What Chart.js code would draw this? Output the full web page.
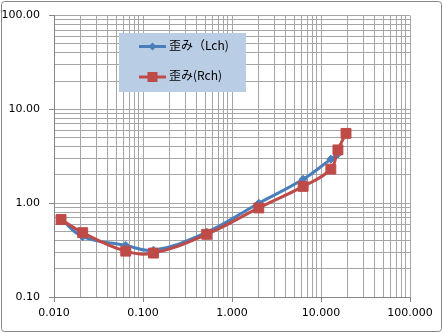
<!DOCTYPE html>
<html>
<head>
<meta charset="utf-8">
<script src="https://cdn.jsdelivr.net/npm/chart.js@4.4.1/dist/chart.umd.min.js"></script>
<style>
  html, body { margin: 0; padding: 0; background: #fff; }
  canvas { display: block; }
</style>
</head>
<body>
<canvas id="chart" width="443" height="333"></canvas>
<script>
// frequency-ish x values and distortion values
const xValues = [0.012, 0.021, 0.064, 0.131, 0.52, 2.0, 6.3, 12.9, 15.5, 19.1]
const lchValues = [0.68, 0.44, 0.355, 0.315, 0.49, 1.0, 1.8, 2.95, 3.35]
const rchValues = [0.67, 0.485, 0.308, 0.294, 0.466, 0.89, 1.51, 2.31, 3.7, 5.55]
const seriesLabels = ['歪み（Lch)', '歪み(Rch)']
const xTickDecades = [0.01, 0.1, 1, 10, 100]
const yTickDecades = [0.1, 1, 10, 100]

const BLUE = '#4a7ebb'
const RED = '#be4b48'

// 1..9 within each decade, for the gridlines
function logTicks (decades) {
  const out = []
  for (let i = 0; i < decades.length - 1; i++) {
    for (let m = 1; m < 10; m++) out.push(+(decades[i] * m).toPrecision(6))
  }
  out.push(decades[decades.length - 1])
  return out
}
const isDecade = v => Math.abs(Math.log10(v) - Math.round(Math.log10(v))) < 1e-9

const toPoints = ys => ys.map((y, i) => ({ x: xValues[i], y }))

const frame = {
  id: 'frame',
  beforeDraw (chart) {
    const ctx = chart.ctx
    ctx.save()
    ctx.fillStyle = '#fff'
    ctx.fillRect(0, 0, chart.width, chart.height)
    ctx.strokeStyle = '#868686'
    ctx.lineWidth = 1
    ctx.beginPath()
    ctx.roundRect(1.5, 1.5, chart.width - 3, chart.height - 3, 3)
    ctx.stroke()
    ctx.restore()
  },
  afterDraw (chart) {
    // legend box inside the plot, like the Excel one
    const ctx = chart.ctx
    ctx.save()
    ctx.fillStyle = '#b9cde5'
    ctx.fillRect(119, 33, 127, 59)
    const rows = [
      { y: 46.5, color: BLUE, marker: 'diamond', label: seriesLabels[0] },
      { y: 77, color: RED, marker: 'square', label: seriesLabels[1] }
    ]
    rows.forEach(r => {
      ctx.strokeStyle = r.color
      ctx.lineWidth = 3
      ctx.beginPath()
      ctx.moveTo(139, r.y)
      ctx.lineTo(166, r.y)
      ctx.stroke()
      ctx.fillStyle = r.color
      if (r.marker === 'square') {
        ctx.fillRect(147.5, r.y - 5, 10, 10)
      } else {
        ctx.beginPath()
        ctx.moveTo(152.5, r.y - 4)
        ctx.lineTo(156.5, r.y)
        ctx.lineTo(152.5, r.y + 4)
        ctx.lineTo(148.5, r.y)
        ctx.closePath()
        ctx.fill()
      }
      ctx.fillStyle = '#000'
      ctx.font = '12px "Noto Sans CJK JP"'
      ctx.textBaseline = 'middle'
      ctx.textAlign = 'left'
      ctx.fillText(r.label, 169, r.y - 1.5)
    })
    ctx.restore()
  }
}

const gridFor = () => ({
  color: '#a6a6a6',
  lineWidth: 1,
  tickLength: 5,
  tickColor: c => (c.tick && isDecade(c.tick.value)) ? '#868686' : 'rgba(0,0,0,0)'
})

new Chart(document.getElementById('chart'), {
  type: 'line',
  data: {
    datasets: [
      {
        label: seriesLabels[0],
        data: toPoints(lchValues),
        borderColor: BLUE,
        backgroundColor: BLUE,
        borderWidth: 3,
        pointStyle: 'rectRot',
        pointRadius: 4,
        pointBorderWidth: 1,
        tension: 0.4,
        order: 1 // drawn under the red series
      },
      {
        label: seriesLabels[1],
        data: toPoints(rchValues),
        borderColor: RED,
        backgroundColor: RED,
        borderWidth: 3,
        pointStyle: 'rect',
        pointRadius: 7,
        pointBorderWidth: 1,
        tension: 0.4,
        order: 0
      }
    ]
  },
  options: {
    responsive: false,
    animation: false,
    layout: { padding: { left: 0, top: 13, right: 33, bottom: 0 } },
    plugins: {
      legend: { display: false },
      tooltip: { enabled: false }
    },
    scales: {
      x: {
        type: 'logarithmic',
        min: xTickDecades[0],
        max: xTickDecades[xTickDecades.length - 1],
        afterBuildTicks: s => { s.ticks = logTicks(xTickDecades).map(v => ({ value: v })) },
        afterFit: s => { s.height = 36 },
        grid: gridFor(),
        border: { color: '#868686' },
        ticks: {
          autoSkip: false,
          maxRotation: 0,
          padding: 5,
          color: '#000',
          font: { family: 'DejaVu Sans', size: 11 },
          callback: v => isDecade(v) ? v.toFixed(3) : ''
        }
      },
      y: {
        type: 'logarithmic',
        min: yTickDecades[0],
        max: yTickDecades[yTickDecades.length - 1],
        afterBuildTicks: s => { s.ticks = logTicks(yTickDecades).map(v => ({ value: v })) },
        afterFit: s => { s.width = 54 },
        grid: gridFor(),
        border: { color: '#868686' },
        ticks: {
          autoSkip: false,
          padding: 9,
          color: '#000',
          font: { family: 'DejaVu Sans', size: 11 },
          callback: v => isDecade(v) ? v.toFixed(2) : ''
        }
      }
    }
  },
  plugins: [frame]
})
</script>
</body>
</html>
